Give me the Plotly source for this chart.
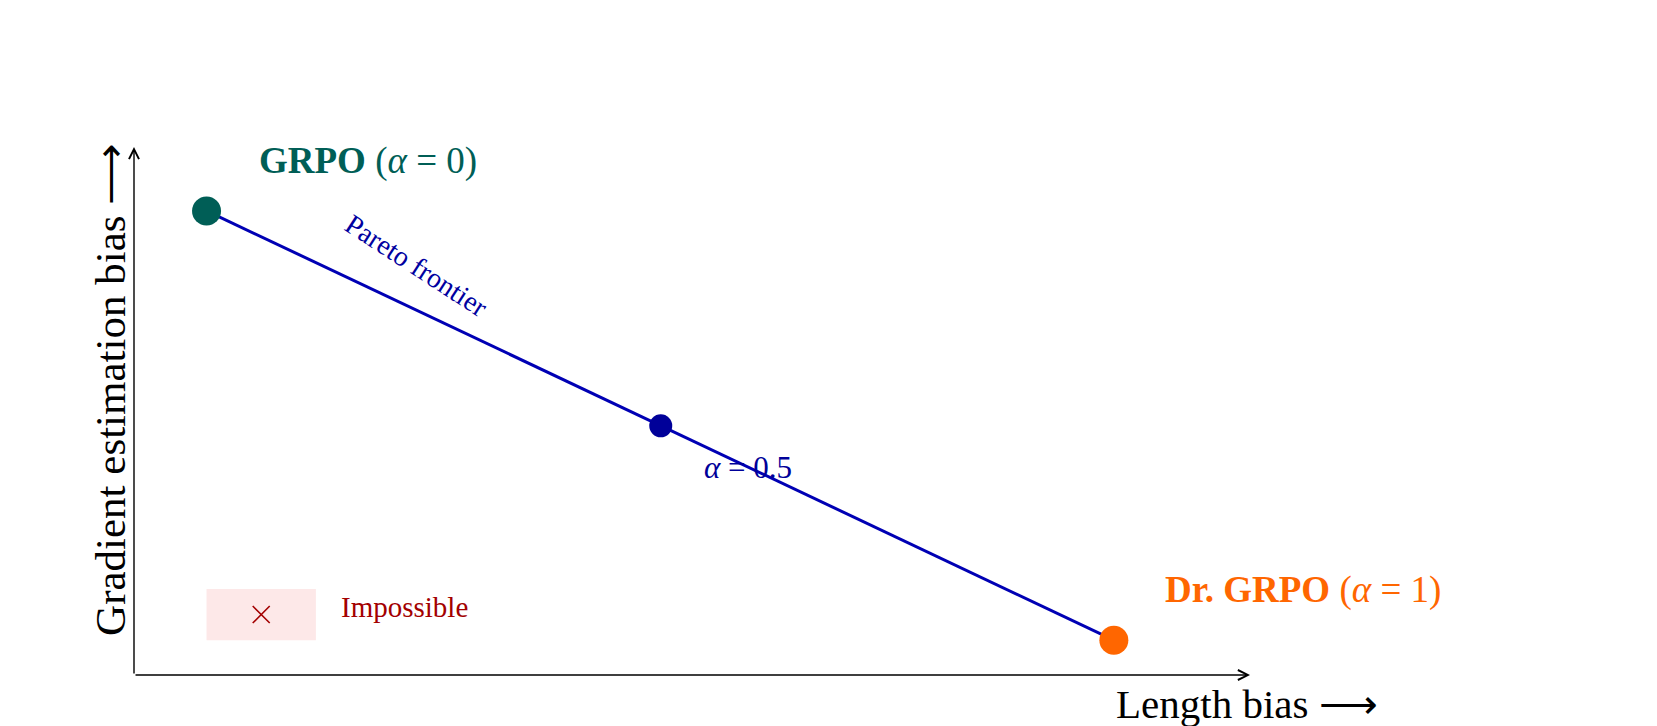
import plotly.graph_objects as go

# ---- data ----
alpha = [0, 0.5, 1]
length_bias = [0.65, 4.72, 8.78]
grad_bias = [8.79, 4.72, 0.66]
point_names = ["GRPO", "mid", "Dr. GRPO"]
point_colors = ["#005e56", "#000099", "#ff6600"]
point_sizes = [29, 23, 29]
impossible_x = [0.65, 1.63]
impossible_y = [0.66, 1.63]
axis_max = 10

FONT = "Liberation Serif, Times New Roman, serif"
LINE_BLUE = "#0000b4"

fig = go.Figure()

# impossible region
fig.add_shape(type="rect", xref="x", yref="y",
              x0=impossible_x[0], x1=impossible_x[1],
              y0=impossible_y[0], y1=impossible_y[1],
              fillcolor="#fde8e8", line=dict(width=0), layer="below")
fig.add_trace(go.Scatter(
    x=[sum(impossible_x) / 2], y=[sum(impossible_y) / 2], mode="markers",
    marker=dict(symbol="x-thin", size=17, opacity=1,
                line=dict(color="#a30000", width=1.6)),
    hoverinfo="skip", showlegend=False, cliponaxis=False))

# pareto frontier line
fig.add_trace(go.Scatter(
    x=length_bias, y=grad_bias, mode="lines",
    line=dict(color=LINE_BLUE, width=3),
    showlegend=False, cliponaxis=False, hoverinfo="skip"))

# points
fig.add_trace(go.Scatter(
    x=length_bias, y=grad_bias, mode="markers",
    marker=dict(color=point_colors, size=point_sizes, opacity=1, line=dict(width=0)),
    showlegend=False, cliponaxis=False, text=point_names))

# axes arrows
fig.add_annotation(x=axis_max, y=0, ax=0, ay=0, xref="x", yref="y", axref="x", ayref="y",
                   text="", showarrow=True, arrowhead=5, arrowwidth=1.4, arrowsize=1.4,
                   arrowcolor="black", standoff=0)
fig.add_annotation(x=0, y=axis_max, ax=0, ay=0, xref="x", yref="y", axref="x", ayref="y",
                   text="", showarrow=True, arrowhead=5, arrowwidth=1.4, arrowsize=1.4,
                   arrowcolor="black", standoff=0)

# labels
fig.add_annotation(x=length_bias[0], y=grad_bias[0], xref="x", yref="y",
                   text="<b>GRPO</b> (<i>α</i> = 0)", showarrow=False,
                   xanchor="left", yanchor="middle", xshift=50, yshift=50,
                   font=dict(family=FONT, size=37, color=point_colors[0]))
fig.add_annotation(x=length_bias[2], y=grad_bias[2], xref="x", yref="y",
                   text="<b>Dr. GRPO</b> (<i>α</i> = 1)", showarrow=False,
                   xanchor="left", yanchor="middle", xshift=49, yshift=50,
                   font=dict(family=FONT, size=37, color=point_colors[2]))
fig.add_annotation(x=length_bias[1], y=grad_bias[1], xref="x", yref="y",
                   text="<i>α</i> = 0.5", showarrow=False,
                   xanchor="left", yanchor="middle", xshift=41, yshift=-42,
                   font=dict(family=FONT, size=31, color="#000099"))
fig.add_annotation(x=2.53, y=7.75, xref="x", yref="y",
                   text="Pareto frontier", showarrow=False, textangle=33,
                   font=dict(family=FONT, size=28, color="#0000a0"))
fig.add_annotation(x=impossible_x[1], y=sum(impossible_y) / 2, xref="x", yref="y",
                   text="Impossible", showarrow=False,
                   xanchor="left", yanchor="middle", xshift=23, yshift=8,
                   font=dict(family=FONT, size=29, color="#a30000"))

# axis titles
fig.add_annotation(x=axis_max, y=0, xref="x", yref="y",
                   text="Length bias ⟶", showarrow=False,
                   xanchor="center", yanchor="middle", yshift=-29, xshift=-3,
                   font=dict(family=FONT, size=41, color="black"))
fig.add_annotation(x=0, y=5.4, xref="x", yref="y",
                   text="Gradient estimation bias ⟶", showarrow=False, textangle=-90,
                   xanchor="center", yanchor="middle", xshift=-23,
                   font=dict(family=FONT, size=43, color="black"))

axis_common = dict(range=[0, axis_max], showgrid=False, zeroline=False,
                   showline=False, showticklabels=False, ticks="", fixedrange=True)
fig.update_layout(
    width=1657, height=726,
    margin=dict(l=126, r=415, t=139, b=59, pad=0),
    plot_bgcolor="white", paper_bgcolor="white",
    xaxis=axis_common, yaxis=axis_common,
    showlegend=False,
)

fig.write_html("out.html")
